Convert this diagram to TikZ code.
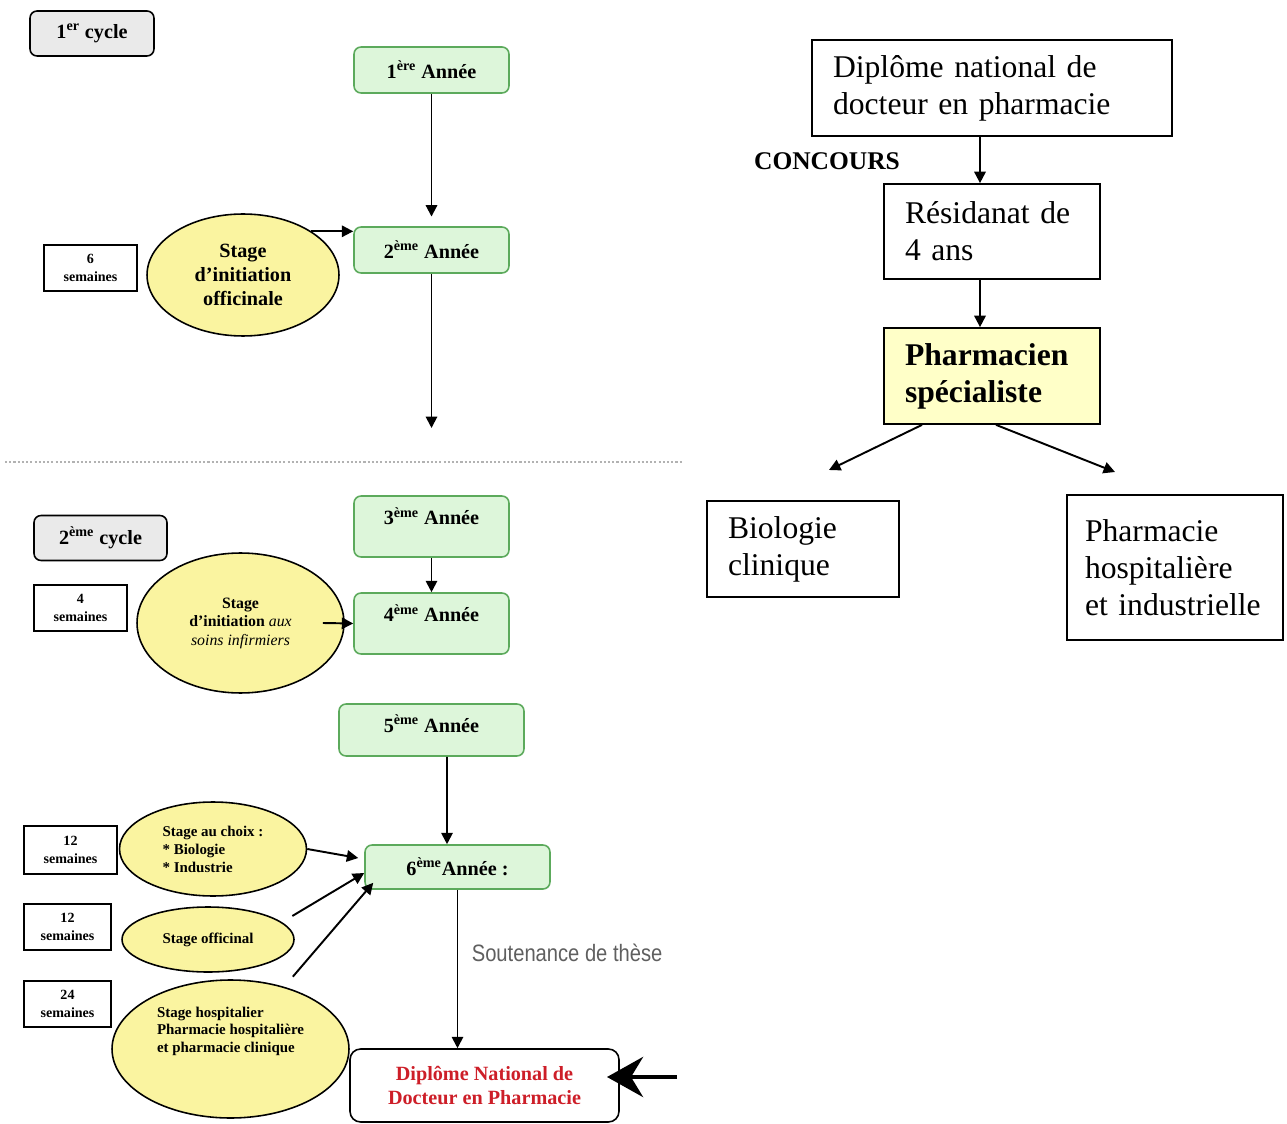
\documentclass[tikz,border=0pt]{standalone}
\usepackage{fontspec}
\setmainfont{Liberation Serif}
\newfontfamily\narrowsans[FakeStretch=0.85]{Liberation Sans}
\usepackage{tikz}
\usetikzlibrary{arrows}
\usetikzlibrary{arrows.meta}
\usetikzlibrary{shapes.geometric}
\usetikzlibrary{positioning}
\usepackage{color}
\definecolor{anneefill}{RGB}{221,246,218}
\definecolor{anneedraw}{RGB}{92,170,92}
\definecolor{stagefill}{RGB}{250,244,160}
\definecolor{cyclefill}{RGB}{234,234,234}
\definecolor{specfill}{RGB}{255,255,200}
\definecolor{diplred}{RGB}{205,30,40}
\definecolor{soutgray}{RGB}{95,95,95}

\begin{document}
\begin{tikzpicture}[->,>={Triangle[length=6.5pt,width=6.5pt]},line width=1.1pt,x=0.02cm,y=-0.02cm,
            annee node/.style={rectangle,rounded corners=4pt,draw=anneedraw,fill=anneefill,line width=0.9pt,inner sep=0pt,minimum width=3.1cm,font=\fontsize{11.5}{13}\selectfont\bfseries},
            cycle node/.style={rectangle,rounded corners=4pt,draw,fill=cyclefill,line width=0.9pt,inner sep=0pt,minimum height=0.9cm,font=\fontsize{11.5}{13}\selectfont\bfseries},
            stage node/.style={ellipse,draw,fill=stagefill,line width=0.9pt,inner sep=0pt,align=center,font=\fontsize{8.5}{10.2}\selectfont\bfseries},
            sem node/.style={rectangle,draw,line width=0.9pt,inner sep=0pt,minimum width=1.86cm,minimum height=0.92cm,align=center,font=\fontsize{8}{10}\selectfont\bfseries},
            box node/.style={rectangle,draw,line width=1pt,inner xsep=0.42cm,inner ysep=0pt,align=left,font=\fontsize{18}{21}\selectfont}
            ]

            \useasboundingbox (0,0) rectangle (1287,1124);

            \node[cycle node,minimum width=2.48cm](cyc1) at (92,33.5){1\textsuperscript{er} cycle};
            \node[annee node,minimum height=0.92cm](a1) at (431.5,70){1\textsuperscript{ère} Année};
            \node[annee node,minimum height=0.92cm](a2) at (431.5,250){2\textsuperscript{ème} Année};
            \coordinate (e2) at (431.5,428);
            \node[stage node,minimum width=3.84cm,minimum height=2.44cm,font=\fontsize{11.5}{13.5}\selectfont\bfseries](s1) at (243,275){Stage\\d'initiation\\officinale};
            \node[sem node](w1) at (90.5,268){6\\semaines};

            \draw[-,gray!60,line width=0.6pt,dash pattern=on 1.2pt off 1.2pt] (5,462) -- (682,462);

            \node[cycle node,minimum width=2.66cm](cyc2) at (100.5,538){2\textsuperscript{ème} cycle};
            \node[annee node,minimum height=1.22cm,text height=8pt,text depth=10pt](a3) at (431.5,526.5){3\textsuperscript{ème} Année};
            \node[annee node,minimum height=1.22cm,text height=8pt,text depth=10pt](a4) at (431.5,623.5){4\textsuperscript{ème} Année};
            \node[stage node,minimum width=4.14cm,minimum height=2.8cm,font=\fontsize{9}{10.5}\selectfont\bfseries](s2) at (240.5,623){Stage\\d'initiation {\mdseries\itshape aux}\\{\mdseries\itshape soins infirmiers}};
            \node[sem node](w2) at (80.5,608){4\\semaines};

            \node[annee node,minimum width=3.7cm,minimum height=1.04cm,text height=8pt,text depth=5.6pt](a5) at (431.5,730){5\textsuperscript{ème} Année};
            \node[annee node,minimum width=3.7cm,minimum height=0.88cm](a6) at (457.5,867){6\textsuperscript{ème}Année :};
            \node[stage node,minimum width=3.74cm,minimum height=1.88cm,align=left](s3) at (213,849){Stage au choix :\\* Biologie\\* Industrie};
            \node[sem node,minimum height=0.96cm](w3) at (70.5,850){12\\semaines};
            \node[stage node,minimum width=3.44cm,minimum height=1.3cm](s4) at (208,939.5){Stage officinal};
            \node[sem node,minimum width=1.74cm](w4) at (67.5,927){12\\semaines};
            \node[sem node,minimum width=1.74cm](w5) at (67.5,1004){24\\semaines};
            \node[stage node,minimum width=4.74cm,minimum height=2.76cm,
                  label={[font=\fontsize{8.5}{10}\selectfont\bfseries,align=left,yshift=0.36cm]center:Stage hospitalier\\Pharmacie hospitalière\\et pharmacie clinique}](s5) at (230.5,1049){};
            \node[rectangle,rounded corners=6pt,draw,line width=0.9pt,minimum width=5.38cm,minimum height=1.46cm,align=center,text=diplred,font=\fontsize{11.5}{14}\selectfont\bfseries](dnp) at (484.5,1085.5){Diplôme National de\\Docteur en Pharmacie};
            \coordinate (t1) at (677,1077);
            \coordinate (t2) at (607,1077);

            \node[box node,text width=6.36cm,minimum height=1.92cm](dip) at (992,88){Diplôme national de\\docteur en pharmacie};
            \node[font=\fontsize{14.5}{17}\selectfont\bfseries](conc) at (827,161){CONCOURS};
            \node[box node,text width=3.48cm,minimum height=1.9cm](res) at (992,231.5){Résidanat de\\4 ans};
            \node[box node,text width=3.48cm,minimum height=1.92cm,fill=specfill,font=\fontsize{18}{21}\selectfont\bfseries](spec) at (992,376){Pharmacien\\spécialiste};
            \coordinate (b1) at (829,470);
            \coordinate (b2) at (1115,472);
            \node[box node,text width=3.0cm,minimum height=1.92cm](bio) at (803,549){Biologie\\clinique};
            \node[box node,inner xsep=0.36cm,text width=3.6cm,minimum height=2.9cm](phh) at (1175,567.5){Pharmacie\\hospitalière\\et industrielle};

            \path
            (a1) edge[shorten >=5.5pt] (a2)
            (a2) edge (e2)
            (s1.north east) edge (s1.north east -| a2.west)
            (a3) edge (a4)
            ([xshift=-0.44cm]s2.east) edge (a4.west)
            ([xshift=0.31cm]a5.south) edge ([xshift=-0.21cm]a6.north)
            (s3.east) edge ([xshift=-0.12cm,yshift=0.18cm]a6.west)
            ([xshift=0.46cm]s4.north east) edge ([yshift=-0.12cm]a6.west)
            ([xshift=-0.44cm,yshift=0.46cm]s5.north east) edge ([xshift=0.18cm,yshift=0.14cm]a6.south west)
            (a6.south) edge node[pos=0.4,right=0.15cm,font=\narrowsans\fontsize{13.5}{16}\selectfont,text=soutgray]{Soutenance de thèse} (a6.south |- dnp.north)

            ([xshift=-0.24cm]dip.south) edge ([xshift=-0.24cm]res.north)
            ([xshift=-0.24cm]res.south) edge ([xshift=-0.24cm]spec.north)
            ([xshift=-1.4cm]spec.south) edge (b1)
            ([xshift=0.08cm]spec.south) edge (b2);

            \draw[-{Stealth[length=0.72cm,width=0.8cm,inset=0.24cm]},line width=2.8pt] (t1) -- (t2);

        \end{tikzpicture}
\end{document}
